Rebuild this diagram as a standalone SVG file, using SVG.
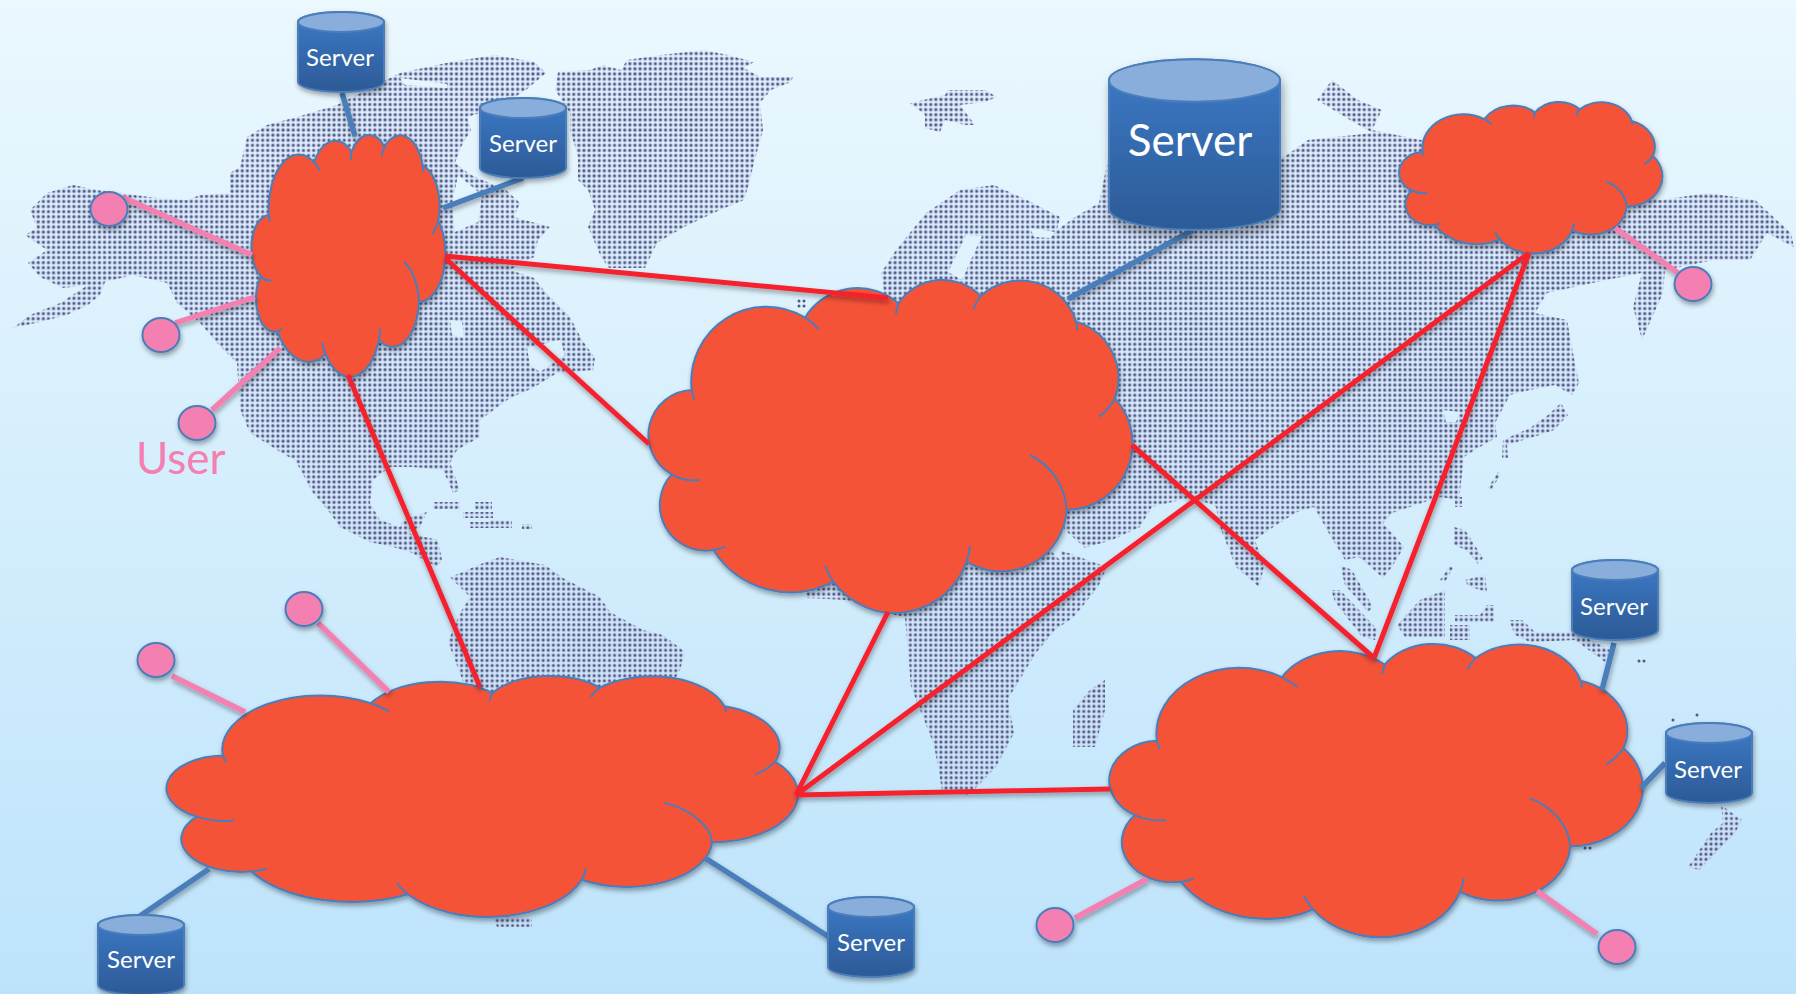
<svg xmlns="http://www.w3.org/2000/svg" width="1796" height="994" viewBox="0 0 1796 994">
<style>
.land{fill:url(#dots);fill-rule:evenodd}
.dot{fill:#4F5B7E}
.cl{fill:#F55239;stroke:#4A7EBB;stroke-width:2;vector-effect:non-scaling-stroke;stroke-linejoin:round}
.tail{fill:none;stroke:#4A7EBB;stroke-width:2;vector-effect:non-scaling-stroke}
.red{stroke:#F5202E;stroke-width:5;fill:none}
.blue{stroke:#4A7EBB;stroke-width:5.5;fill:none}
.pink{stroke:#F47FB1;stroke-width:5.5;fill:none}
.user{fill:#F47FB1;stroke:#4A7EBB;stroke-width:2}
.sv{fill:#fff;font-family:Lato,"Liberation Sans",sans-serif;text-anchor:middle}
.canline{stroke:#4A7EBB;stroke-width:2;vector-effect:non-scaling-stroke}
</style>
<defs>
<linearGradient id="bg" x1="0" y1="0" x2="0" y2="1"><stop offset="0" stop-color="#EBF8FE"/><stop offset="1" stop-color="#BDE3FB"/></linearGradient>
<linearGradient id="can" x1="0" y1="0" x2="0" y2="1"><stop offset="0" stop-color="#3C7BC8"/><stop offset="1" stop-color="#2D5A96"/></linearGradient>
<pattern id="dots" patternUnits="userSpaceOnUse" width="5.1" height="5.1"><rect x=".35" y=".35" width="4.4" height="4.4" rx="1.2" fill="#C6D1F0"/><circle cx="2.55" cy="2.55" r="1.45" fill="#4F5B7E"/></pattern>
<filter id="sh" x="-10%" y="-10%" width="120%" height="125%"><feDropShadow dx="1" dy="3" stdDeviation="2.5" flood-color="#000" flood-opacity=".35"/></filter>
<g id="cloud">
<path class="cl" d="M155 360A225 225 0 0 1 495 143A185 185 0 0 1 775 100A160 160 0 0 1 1022 78A175 175 0 0 1 1308 155A178 178 0 0 1 1425 385A200 200 0 0 1 1280 720A197 197 0 0 1 980 875A228 228 0 0 1 580 935A275 275 0 0 1 220 840A137 137 0 0 1 95 613A135 135 0 0 1 155 360Z"/>
<path class="tail" d="M537 177A225 225 0 0 0 495 143M163 388A225 225 0 0 1 155 360M768 133A160 160 0 0 1 775 100M1000 117A175 175 0 0 1 1022 78M1308 155A175 175 0 0 1 1312 180M1425 385A178 178 0 0 1 1378 440M1170 555A197 197 0 0 1 1280 720M990 828A228 228 0 0 1 980 875M580 935A228 228 0 0 1 555 888M255 830A137 137 0 0 1 220 840M180 630A135 135 0 0 1 95 613"/>
</g>
<g id="cyl" filter="url(#sh)">
<path class="canline" d="M1 11A43 10 0 0 1 87 11V71A43 10 0 0 1 1 71Z" fill="url(#can)"/>
<ellipse class="canline" cx="44" cy="11" rx="43" ry="10" fill="#8AAEDC"/>
</g>
</defs>
<rect id="background" width="1796" height="994" fill="url(#bg)"/>
<g id="map">
<path class="land" d="M13 328L40 322 67 315 88 305 100 295 105 282 133 275 167 283 177 303 200 323 217 343 237 363 240 410 250 433 285 455 295 460 313 493 330 513 340 527 370 542 393 547 410 552 437 567 442 560 438 540 407 533 420 527 427 512 403 520 400 527 380 520 370 503 373 480 390 467 412 467 443 470 453 493 460 490 450 463 457 450 480 437 480 420 510 398 533 388 557 373 593 370 595 358 582 340 570 317 546 293 534 278 510 270 534 257 538 240 550 227 514 217 520 203 506 190 471 175 455 163 461 147 471 130 467 117 499 107 526 90 546 73 534 62 495 55 451 62 400 73 337 105 297 117 267 125 247 137 240 167 230 173 230 193 200 195 187 200 157 198 97 190 73 185 47 193 30 210 37 228 25 235 47 250 28 263 40 277 63 288 88 285 60 303 30 315ZM458 175L482 195 478 222 455 232 452 205ZM527 348L560 340 565 355 540 372 530 365ZM450 320L462 322 464 338 452 335ZM400 78L447 84 447 88 405 85Z"/>
<path class="land" d="M558 72L590 70 603 65 621 70 627 60 661 55 704 50 728 55 754 62 744 68 760 77 793 77 791 82 771 90 760 103 763 130 754 163 748 187 744 200 720 210 684 227 657 243 645 268 609 268 601 257 588 227 595 210 588 190 578 180 578 157 570 130 570 113 555 90Z"/>
<path class="land" d="M910 103L945 95 948 90 985 90 997 97 985 102 960 105 975 125 965 125 945 120 940 132 925 128 925 115Z"/>
<path class="land" d="M450 577L463 572 478 565 500 557 545 565 563 578 600 597 610 612 643 630 663 635 685 652 680 670 620 780 540 900 490 900 470 700 448 642 460 613 470 597ZM493 917L532 917 532 927 497 927Z"/>
<path class="land" d="M433 502H460V509H433ZM463 512H493V518H463ZM475 502H492V510H475ZM470 522H490V528H470ZM490 520H512V528H490ZM522 524H532V529H522Z"/>
<path class="land" d="M881 273L896 250 926 213 960 190 994 185 1027 200 1060 217 1057 230 1075 217 1099 203 1110 150 1284 157 1308 140 1373 133 1350 120 1317 100 1332 80 1358 100 1382 110 1372 130 1421 140 1500 170 1660 200 1708 193 1755 200 1791 233 1794 247 1767 233 1750 260 1714 260 1665 270 1663 293 1642 340 1633 307 1642 273 1606 280 1547 293 1535 313 1567 320 1573 353 1579 383 1572 395 1555 385 1530 390 1510 395 1495 423 1497 437 1475 450 1464 457 1459 500 1440 497 1392 513 1383 523 1404 547 1392 567 1383 578 1359 557 1345 560 1331 537 1314 507 1297 512 1269 530 1255 540 1264 567 1259 587 1236 567 1221 530 1216 507 1193 497 1152 507 1140 527 1112 540 1085 548 1065 530 1040 500 900 400ZM966 235L982 236 970 262 962 280 948 272ZM1030 228L1055 232 1050 238 1034 237ZM1443 410L1460 412 1456 422 1446 422Z"/>
<path class="land" d="M1060 550L1107 567 1098 587 1074 617 1055 630 1036 653 1008 699 1014 733 996 767 968 796 942 790 934 745 911 687 905 618 847 600 807 598 800 560 820 500 1000 480 1040 540 1063 563Z"/>
<path class="land" d="M1105 680L1105 710 1095 747 1073 747 1073 710 1090 690Z"/>
<path class="land" d="M1561 403L1568 415 1554 430 1540 435 1507 445 1508 458 1502 458 1503 440 1530 428 1548 415ZM1455 497H1462V507H1455ZM1454 527L1465 530 1483 558 1478 564 1466 550 1454 545ZM1488 488L1498 472 1501 474 1491 490Z"/>
<path class="land" d="M1340 565L1352 570 1373 607 1368 612 1345 585ZM1331 590L1340 590 1378 630 1375 640 1362 637 1335 602ZM1397 625L1420 600 1445 590 1445 637 1405 637ZM1440 580L1450 566 1453 568 1445 582ZM1465 580L1485 575 1487 592 1480 590 1468 586ZM1455 615H1480L1487 605 1494 605V622H1455ZM1450 625H1470V640H1450ZM1509 620L1522 620 1535 632 1575 632 1610 650 1605 662 1575 640 1530 642 1515 635Z"/>
<path class="land" d="M1721 805L1742 820 1735 833 1699 870 1688 867 1711 833 1723 823Z"/>
<circle class="dot" cx="799" cy="301" r="1.5"/><circle class="dot" cx="804" cy="301" r="1.5"/><circle class="dot" cx="799" cy="306" r="1.5"/><circle class="dot" cx="804" cy="306" r="1.5"/>
<circle class="dot" cx="1585" cy="848" r="1.5"/><circle class="dot" cx="1590" cy="848" r="1.5"/><circle class="dot" cx="1639" cy="661" r="1.5"/><circle class="dot" cx="1644" cy="661" r="1.5"/><circle class="dot" cx="1673" cy="720" r="1.5"/><circle class="dot" cx="1697" cy="715" r="1.5"/>
</g>
<g id="cloud-top-left" filter="url(#sh)"><use href="#cloud" transform="translate(248.06 127.73) scale(.13352 .24221)"/></g>
<g id="cloud-top-right" filter="url(#sh)"><use href="#cloud" transform="translate(1394.51 97.45) scale(.18135 .15176)"/></g>
<g id="cloud-center" filter="url(#sh)"><use href="#cloud" transform="translate(640 270) scale(.33333)"/></g>
<g id="cloud-bottom-left" filter="url(#sh)"><use href="#cloud" transform="translate(155.43 668.76) scale(.43496 .24121)"/></g>
<g id="cloud-bottom-right" filter="url(#sh)"><use href="#cloud" transform="translate(1099.91 635.2) scale(.36752 .29347)"/></g>
<g id="connectors" filter="url(#sh)">
<path class="red" d="M445 256L888 298M445 258L649 444M348 375L480 687M1132 445L1374 658M1529 253L1374 658M1529 253L796 795M888 612L796 795M796 795L1110 789"/>
<path class="blue" d="M342 93L355 136M523 178L443 208M1193 230L1068 299M209 869L140 916M705 858L829 937M1614 643L1602 690M1665 763L1641 788"/>
<path class="pink" d="M122 197L252 255M175 323L255 297M212 410L280 348M318 623L389 692M172 676L245 712M1075 918L1147 879M1537 891L1597 934M1615 228L1678 273"/>
</g>
<g id="server-1"><use href="#cyl" x="297" y="11"/><text class="sv" x="340" y="66" font-size="24">Server</text></g>
<g id="server-2"><use href="#cyl" x="479" y="97"/><text class="sv" x="523" y="152" font-size="24">Server</text></g>
<g id="server-big"><use href="#cyl" transform="translate(1107 57) scale(1.989 2.134)"/><text class="sv" x="1190" y="156" font-size="44">Server</text></g>
<g id="server-3"><use href="#cyl" x="97" y="914"/><text class="sv" x="141" y="968" font-size="24">Server</text></g>
<g id="server-4"><use href="#cyl" x="827" y="896"/><text class="sv" x="871" y="951" font-size="24">Server</text></g>
<g id="server-5"><use href="#cyl" x="1571" y="559"/><text class="sv" x="1614" y="615" font-size="24">Server</text></g>
<g id="server-6"><use href="#cyl" x="1665" y="722"/><text class="sv" x="1708" y="778" font-size="24">Server</text></g>
<g id="users" filter="url(#sh)">
<ellipse id="user-1" class="user" cx="109" cy="209" rx="18.5" ry="17"/>
<ellipse id="user-2" class="user" cx="161" cy="335" rx="18.5" ry="17"/>
<ellipse id="user-3" class="user" cx="197" cy="423" rx="18.5" ry="17"/>
<ellipse id="user-4" class="user" cx="304" cy="609" rx="18.5" ry="17"/>
<ellipse id="user-5" class="user" cx="156" cy="660" rx="18.5" ry="17"/>
<ellipse id="user-6" class="user" cx="1055" cy="925" rx="18.5" ry="17"/>
<ellipse id="user-7" class="user" cx="1617" cy="947" rx="18.5" ry="17"/>
<ellipse id="user-8" class="user" cx="1693" cy="284" rx="18.5" ry="17"/>
</g>
<text id="user-label" x="136" y="474" font-size="44" fill="#F47FB1" font-family="Lato,'Liberation Sans',sans-serif">User</text>
</svg>
